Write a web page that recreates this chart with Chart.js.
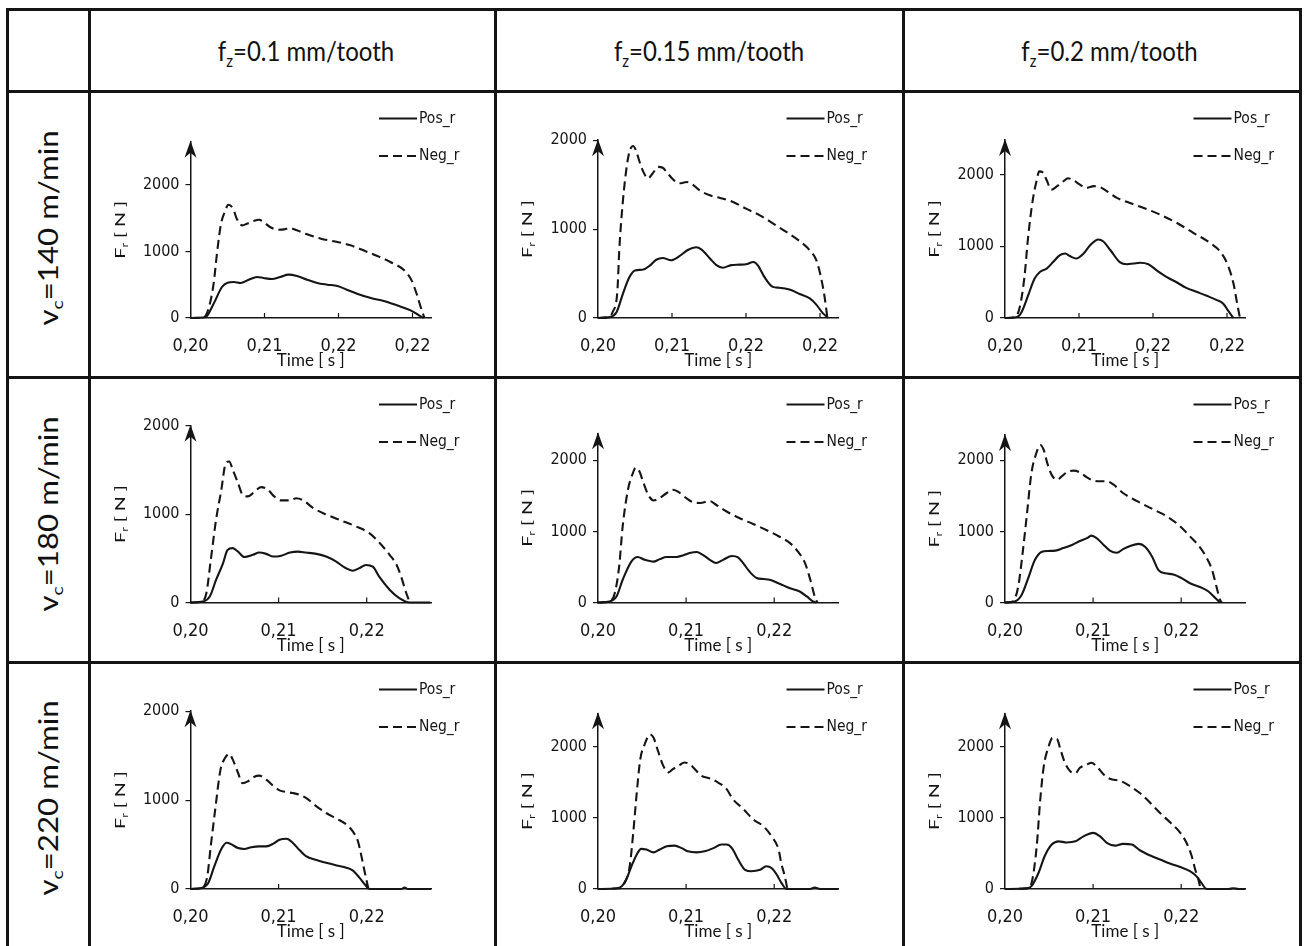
<!DOCTYPE html>
<html>
<head>
<meta charset="utf-8">
<script src="https://cdn.jsdelivr.net/npm/chart.js@4.4.1/dist/chart.umd.min.js"></script>
<style>
  body { margin: 0; background: #fff; }
  #sheet { position: relative; width: 1306px; height: 946px; overflow: hidden; background: #fff; font-family: Lato, 'Open Sans', sans-serif; color: #111; }
  .hl, .vl { position: absolute; background: #141414; z-index: 5; }
  .hl { height: 3px; }
  .vl { width: 3px; }
  .head { position: absolute; top: 9px; height: 82px; display: flex; align-items: center; justify-content: center; font-size: 24px; }
  .head span { display: inline-block; transform: scaleY(1.12); }
  .rowlab { position: absolute; left: 48px; transform: translate(-50%, -50%) rotate(-90deg) scaleX(1.2); white-space: nowrap; font-size: 26px; }
  sub { font-size: 62%; position: relative; top: 0.32em; vertical-align: baseline; line-height: 1; }
  canvas { position: absolute; }
</style>
</head>
<body>
<div id="sheet"></div>
<script>
const ink = '#151515';
const chartFont = "'Liberation Sans Narrow', 'DejaVu Sans Condensed', sans-serif";
const titleFont = "Lato, 'Open Sans', sans-serif";

// categories: columns are feed per tooth, rows are cutting speed
const feedRates = ['0.1', '0.15', '0.2'];
const cuttingSpeeds = ['140', '180', '220'];
const seriesNames = ['Pos_r', 'Neg_r'];

// tick values and labels
const forceTicks = [0, 1000, 2000];
const forceLabels = ['0', '1000', '2000'];
const timeTicksTop = [0.200, 0.208, 0.216, 0.224];
const timeLabelsTop = ['0,20', '0,21', '0,22', '0,22'];
const timeTicks = [0.20, 0.21, 0.22];
const timeLabels = ['0,20', '0,21', '0,22'];

// series, [time s, F_r N]
// v_c = 140 m/min
const pos_140_01 = [[0.2000,0],[0.2016,10],[0.2025,215],[0.2034,465],[0.2040,530],[0.2047,540],[0.2054,525],[0.2063,575],[0.2072,615],[0.2079,600],[0.2088,585],[0.2097,615],[0.2106,650],[0.2115,630],[0.2126,575],[0.2137,525],[0.2148,500],[0.2159,480],[0.2169,425],[0.2180,365],[0.2195,300],[0.2209,255],[0.2223,190],[0.2238,115],[0.2247,40],[0.2252,0]];
const neg_140_01 = [[0.2000,0],[0.2014,5],[0.2020,165],[0.2025,515],[0.2029,1015],[0.2033,1415],[0.2037,1590],[0.2041,1700],[0.2046,1640],[0.2050,1490],[0.2056,1390],[0.2061,1415],[0.2068,1455],[0.2074,1475],[0.2079,1440],[0.2086,1365],[0.2094,1325],[0.2101,1330],[0.2107,1350],[0.2115,1315],[0.2126,1255],[0.2141,1190],[0.2159,1140],[0.2173,1090],[0.2187,1015],[0.2202,930],[0.2216,840],[0.2231,715],[0.2239,565],[0.2245,340],[0.2250,115],[0.2253,0]];
const pos_140_015 = [[0.2000,0],[0.2013,10],[0.2020,65],[0.2027,275],[0.2034,460],[0.2040,535],[0.2049,545],[0.2056,590],[0.2063,655],[0.2070,675],[0.2079,650],[0.2088,695],[0.2097,765],[0.2106,795],[0.2112,770],[0.2121,670],[0.2128,595],[0.2135,565],[0.2144,595],[0.2153,600],[0.2160,605],[0.2168,630],[0.2173,590],[0.2180,460],[0.2189,350],[0.2196,340],[0.2207,320],[0.2218,270],[0.2229,220],[0.2236,150],[0.2243,55],[0.2249,0]];
const neg_140_015 = [[0.2000,0],[0.2011,10],[0.2016,70],[0.2021,310],[0.2023,765],[0.2027,1325],[0.2031,1700],[0.2034,1870],[0.2038,1935],[0.2041,1885],[0.2045,1755],[0.2049,1645],[0.2054,1570],[0.2059,1625],[0.2065,1700],[0.2070,1690],[0.2074,1645],[0.2081,1560],[0.2088,1515],[0.2096,1530],[0.2103,1495],[0.2110,1435],[0.2121,1380],[0.2132,1350],[0.2146,1305],[0.2160,1230],[0.2175,1155],[0.2189,1065],[0.2204,965],[0.2218,865],[0.2229,760],[0.2236,650],[0.2241,460],[0.2245,235],[0.2248,0]];
const pos_140_02 = [[0.2000,0],[0.2013,15],[0.2018,85],[0.2025,315],[0.2032,550],[0.2038,645],[0.2045,690],[0.2052,780],[0.2059,875],[0.2065,900],[0.2070,865],[0.2077,830],[0.2085,900],[0.2092,1015],[0.2101,1095],[0.2106,1070],[0.2114,945],[0.2124,780],[0.2132,750],[0.2139,760],[0.2146,770],[0.2155,750],[0.2164,665],[0.2175,570],[0.2186,495],[0.2196,420],[0.2207,365],[0.2218,310],[0.2229,250],[0.2236,200],[0.2241,105],[0.2247,0]];
const neg_140_02 = [[0.2000,0],[0.2011,15],[0.2016,155],[0.2021,570],[0.2025,1130],[0.2030,1645],[0.2034,1905],[0.2037,2045],[0.2041,2030],[0.2045,1925],[0.2050,1790],[0.2056,1835],[0.2063,1905],[0.2068,1950],[0.2074,1920],[0.2081,1860],[0.2088,1815],[0.2096,1840],[0.2103,1825],[0.2110,1770],[0.2121,1675],[0.2135,1605],[0.2150,1535],[0.2168,1440],[0.2186,1325],[0.2204,1185],[0.2222,1045],[0.2234,905],[0.2241,735],[0.2247,480],[0.2251,200],[0.2254,0]];
// v_c = 180 m/min
const pos_180_01 = [[0.2000,0],[0.2014,10],[0.2022,70],[0.2029,255],[0.2037,445],[0.2042,595],[0.2048,615],[0.2054,575],[0.2061,515],[0.2071,540],[0.2078,565],[0.2086,550],[0.2094,520],[0.2103,530],[0.2113,565],[0.2122,575],[0.2131,565],[0.2143,550],[0.2154,520],[0.2165,465],[0.2176,390],[0.2184,360],[0.2192,390],[0.2199,425],[0.2207,405],[0.2214,295],[0.2226,145],[0.2237,50],[0.2249,0],[0.2272,0]];
const neg_180_01 = [[0.2000,0],[0.2012,10],[0.2018,105],[0.2023,480],[0.2029,935],[0.2035,1275],[0.2040,1575],[0.2044,1595],[0.2048,1500],[0.2054,1350],[0.2059,1220],[0.2065,1200],[0.2073,1255],[0.2080,1305],[0.2088,1275],[0.2095,1200],[0.2103,1155],[0.2113,1155],[0.2120,1180],[0.2128,1155],[0.2139,1070],[0.2154,995],[0.2169,935],[0.2188,860],[0.2203,785],[0.2215,670],[0.2226,540],[0.2234,425],[0.2239,295],[0.2245,105],[0.2249,0]];
const pos_180_015 = [[0.2000,0],[0.2013,15],[0.2021,85],[0.2028,320],[0.2038,580],[0.2045,640],[0.2053,600],[0.2063,575],[0.2070,610],[0.2078,640],[0.2089,640],[0.2097,665],[0.2104,695],[0.2112,710],[0.2119,670],[0.2127,600],[0.2134,555],[0.2142,600],[0.2152,655],[0.2159,635],[0.2165,550],[0.2172,435],[0.2180,345],[0.2188,330],[0.2195,320],[0.2206,265],[0.2218,200],[0.2229,155],[0.2237,85],[0.2244,15],[0.2248,0]];
const neg_180_015 = [[0.2000,0],[0.2013,15],[0.2019,130],[0.2024,505],[0.2028,1070],[0.2034,1585],[0.2039,1800],[0.2043,1895],[0.2047,1845],[0.2051,1705],[0.2057,1515],[0.2063,1435],[0.2070,1470],[0.2078,1540],[0.2085,1585],[0.2093,1540],[0.2100,1470],[0.2108,1410],[0.2116,1400],[0.2127,1425],[0.2134,1375],[0.2146,1280],[0.2161,1185],[0.2176,1105],[0.2191,1020],[0.2206,925],[0.2218,835],[0.2227,715],[0.2235,555],[0.2241,320],[0.2246,85],[0.2249,0]];
const pos_180_02 = [[0.2000,0],[0.2011,15],[0.2019,110],[0.2027,365],[0.2034,600],[0.2042,715],[0.2049,725],[0.2057,730],[0.2066,765],[0.2076,810],[0.2085,865],[0.2093,905],[0.2098,940],[0.2104,905],[0.2112,810],[0.2119,730],[0.2127,700],[0.2134,750],[0.2142,795],[0.2152,825],[0.2159,785],[0.2167,645],[0.2174,460],[0.2182,410],[0.2191,395],[0.2201,340],[0.2210,270],[0.2222,215],[0.2231,155],[0.2239,60],[0.2244,0]];
const neg_180_02 = [[0.2000,0],[0.2009,15],[0.2015,225],[0.2020,695],[0.2025,1255],[0.2030,1820],[0.2035,2080],[0.2040,2215],[0.2044,2145],[0.2048,1960],[0.2053,1795],[0.2059,1725],[0.2064,1770],[0.2070,1830],[0.2078,1855],[0.2085,1830],[0.2093,1760],[0.2100,1715],[0.2108,1705],[0.2116,1705],[0.2123,1660],[0.2134,1540],[0.2150,1425],[0.2169,1305],[0.2184,1210],[0.2199,1070],[0.2210,930],[0.2222,765],[0.2229,625],[0.2235,460],[0.2240,225],[0.2244,40],[0.2246,0]];
// v_c = 220 m/min
const pos_220_01 = [[0.2000,0],[0.2012,10],[0.2020,65],[0.2027,255],[0.2035,450],[0.2041,520],[0.2046,505],[0.2054,460],[0.2061,450],[0.2069,470],[0.2078,480],[0.2086,480],[0.2094,510],[0.2101,555],[0.2109,565],[0.2116,520],[0.2124,435],[0.2131,370],[0.2143,325],[0.2154,295],[0.2166,265],[0.2177,240],[0.2184,210],[0.2192,125],[0.2198,50],[0.2203,0],[0.2239,0],[0.2243,15],[0.2247,0],[0.2273,0]];
const neg_220_01 = [[0.2000,0],[0.2012,10],[0.2019,140],[0.2023,480],[0.2028,890],[0.2034,1340],[0.2039,1470],[0.2044,1520],[0.2048,1455],[0.2054,1305],[0.2059,1190],[0.2065,1210],[0.2072,1260],[0.2078,1275],[0.2086,1230],[0.2094,1160],[0.2101,1110],[0.2109,1090],[0.2116,1080],[0.2124,1060],[0.2131,1025],[0.2143,930],[0.2154,855],[0.2166,790],[0.2177,725],[0.2184,650],[0.2190,540],[0.2194,370],[0.2198,180],[0.2202,0]];
const pos_220_015 = [[0.2000,0],[0.2021,10],[0.2027,40],[0.2032,130],[0.2038,320],[0.2044,485],[0.2049,565],[0.2055,555],[0.2063,515],[0.2070,555],[0.2078,600],[0.2087,610],[0.2095,575],[0.2102,530],[0.2112,515],[0.2121,530],[0.2131,575],[0.2140,625],[0.2146,625],[0.2152,575],[0.2159,415],[0.2167,270],[0.2174,250],[0.2184,270],[0.2191,320],[0.2197,295],[0.2203,200],[0.2208,90],[0.2214,0],[0.2241,0],[0.2246,20],[0.2252,0],[0.2273,0]];
const neg_220_015 = [[0.2000,0],[0.2025,10],[0.2030,85],[0.2036,320],[0.2040,790],[0.2044,1355],[0.2048,1825],[0.2053,2035],[0.2059,2175],[0.2063,2130],[0.2068,1945],[0.2074,1735],[0.2080,1640],[0.2085,1685],[0.2093,1745],[0.2098,1780],[0.2104,1755],[0.2110,1685],[0.2117,1595],[0.2127,1555],[0.2136,1500],[0.2146,1405],[0.2153,1265],[0.2165,1125],[0.2176,980],[0.2188,880],[0.2197,740],[0.2205,555],[0.2208,365],[0.2212,180],[0.2215,0]];
const pos_220_02 = [[0.2000,0],[0.2025,10],[0.2030,40],[0.2038,225],[0.2045,460],[0.2053,625],[0.2061,670],[0.2070,655],[0.2080,670],[0.2089,740],[0.2100,790],[0.2108,740],[0.2116,645],[0.2125,610],[0.2134,635],[0.2144,625],[0.2153,545],[0.2165,470],[0.2176,415],[0.2188,355],[0.2199,310],[0.2210,250],[0.2218,170],[0.2223,85],[0.2229,0],[0.2254,0],[0.2259,10],[0.2265,0],[0.2273,0]];
const neg_220_02 = [[0.2000,0],[0.2027,10],[0.2031,130],[0.2036,600],[0.2040,1255],[0.2044,1725],[0.2049,1985],[0.2054,2125],[0.2059,2110],[0.2063,1960],[0.2068,1775],[0.2074,1655],[0.2080,1630],[0.2085,1705],[0.2093,1750],[0.2098,1775],[0.2104,1725],[0.2112,1610],[0.2119,1550],[0.2131,1520],[0.2142,1445],[0.2153,1350],[0.2165,1210],[0.2176,1070],[0.2188,930],[0.2199,790],[0.2206,650],[0.2212,460],[0.2216,270],[0.2220,110],[0.2222,0]];

const posGrid = [[pos_140_01, pos_140_015, pos_140_02], [pos_180_01, pos_180_015, pos_180_02], [pos_220_01, pos_220_015, pos_220_02]];
const negGrid = [[neg_140_01, neg_140_015, neg_140_02], [neg_180_01, neg_180_015, neg_180_02], [neg_220_01, neg_220_015, neg_220_02]];
const forceMax = [[2645, 2000, 2483], [2000, 2380, 2356], [2000, 2471, 2471]];
const timeMax = [0.2260, 0.2273, 0.2273];

// page layout (px)
const colEdges = [89, 495, 903, 1300];
const rowEdges = [91, 377, 662, 946];
const headShift = [14, 10, 8];
const plotLeft = [190.5, 598, 1005];
const plotWidth = 240.5;
const plotBottom = [318, 602.5, 889];
const plotTop = [[141.7, 140.2, 140], [425.7, 433.3, 435], [711.2, 713.3, 713.3]];

const sheet = document.getElementById('sheet');

// table frame (bottom edge is cut off in the source)
colEdges.concat([7]).forEach(x => {
    const d = document.createElement('div');
    d.className = 'vl';
    d.style.left = (x - 1.5) + 'px'; d.style.top = '7.5px'; d.style.height = '940px';
    sheet.appendChild(d);
});
[9, 91, 377, 662].forEach(y => {
    const d = document.createElement('div');
    d.className = 'hl';
    d.style.top = (y - 1.5) + 'px'; d.style.left = '5.5px'; d.style.width = '1296px';
    sheet.appendChild(d);
});

// header and row labels
feedRates.forEach((f, i) => {
    const d = document.createElement('div');
    d.className = 'head';
    d.style.left = (colEdges[i] + headShift[i]) + 'px';
    d.style.width = (colEdges[i + 1] - colEdges[i]) + 'px';
    d.innerHTML = '<span>f<sub>z</sub>=' + f + ' mm/tooth</span>';
    sheet.appendChild(d);
});
cuttingSpeeds.forEach((v, i) => {
    const d = document.createElement('div');
    d.className = 'rowlab';
    d.style.top = ((rowEdges[i] + rowEdges[i + 1]) / 2 - 6) + 'px';
    d.innerHTML = 'v<sub>c</sub>=' + v + ' m/min';
    sheet.appendChild(d);
});

// arrow, inner x ticks, axis titles and legend
const decor = {
    id: 'decor',
    afterDraw(chart) {
        const { ctx, chartArea: a, scales: { x } } = chart;
        ctx.save();
        ctx.fillStyle = ink;
        ctx.strokeStyle = ink;

        ctx.beginPath();
        ctx.moveTo(a.left, a.top - 1);
        ctx.lineTo(a.left - 6, a.top + 16);
        ctx.lineTo(a.left, a.top + 11);
        ctx.lineTo(a.left + 6, a.top + 16);
        ctx.closePath();
        ctx.fill();

        ctx.lineWidth = 1.2;
        x.ticks.forEach((t, i) => {
            if (i === 0) return;
            const px = x.getPixelForValue(t.value);
            ctx.beginPath();
            ctx.moveTo(px, a.bottom);
            ctx.lineTo(px, a.bottom - 5);
            ctx.stroke();
        });

        ctx.font = '17px ' + titleFont;
        ctx.textAlign = 'center';
        ctx.textBaseline = 'middle';
        ctx.fillText('Time [ s ]', (a.left + a.right) / 2, a.bottom + 43);

        // F_r [ N ] rotated, stretched along the axis like the source
        ctx.save();
        ctx.translate(a.left - 71, (a.top + a.bottom) / 2);
        ctx.rotate(-Math.PI / 2);
        ctx.scale(1.4, 1);
        ctx.textAlign = 'left';
        ctx.textBaseline = 'alphabetic';
        ctx.font = '14px ' + titleFont;
        const wF = ctx.measureText('F').width;
        const wRest = ctx.measureText(' [ N ]').width;
        ctx.font = '9px ' + titleFont;
        const wr = ctx.measureText('r').width;
        const x0 = -(wF + wr + wRest) / 2;
        ctx.font = '14px ' + titleFont;
        ctx.fillText('F', x0, 5);
        ctx.font = '9px ' + titleFont;
        ctx.fillText('r', x0 + wF, 8);
        ctx.font = '14px ' + titleFont;
        ctx.fillText(' [ N ]', x0 + wF + wr, 5);
        ctx.restore();

        // legend
        const rowsY = [27.5, 65];
        ctx.font = '15.5px ' + chartFont;
        ctx.textAlign = 'left';
        ctx.textBaseline = 'middle';
        chart.data.datasets.forEach((ds, i) => {
            const y = rowsY[i];
            ctx.lineWidth = 2;
            ctx.setLineDash(ds.borderDash || []);
            ctx.beginPath();
            ctx.moveTo(a.right - 52, y);
            ctx.lineTo(a.right - 14, y);
            ctx.stroke();
            ctx.setLineDash([]);
            ctx.fillText(ds.label, a.right - 12, y);
        });
        ctx.restore();
    }
};

const toXY = pts => pts.map(p => ({ x: p[0], y: p[1] }));

function buildChart(r, c) {
    const cx = colEdges[c], cy = rowEdges[r];
    const w = colEdges[c + 1] - cx, h = rowEdges[r + 1] - cy;
    const L = plotLeft[c], R = L + plotWidth, B = plotBottom[r], T = plotTop[r][c];
    const canvas = document.createElement('canvas');
    canvas.width = w;
    canvas.height = h;
    canvas.style.left = cx + 'px';
    canvas.style.top = cy + 'px';
    sheet.appendChild(canvas);

    const tv = r === 0 ? timeTicksTop : timeTicks;
    const tl = r === 0 ? timeLabelsTop : timeLabels;

    new Chart(canvas, {
        type: 'line',
        data: {
            datasets: [
                { label: seriesNames[0], data: toXY(posGrid[r][c]), borderColor: ink, borderWidth: 2.1, pointRadius: 0, cubicInterpolationMode: 'monotone', clip: false },
                { label: seriesNames[1], data: toXY(negGrid[r][c]), borderColor: ink, borderWidth: 2.1, borderDash: [9, 5], pointRadius: 0, cubicInterpolationMode: 'monotone', clip: false }
            ]
        },
        options: {
            responsive: false,
            animation: false,
            events: [],
            layout: { padding: { left: 0, top: T - cy, right: cx + w - R, bottom: 0 } },
            plugins: { legend: { display: false }, tooltip: { enabled: false } },
            scales: {
                x: {
                    type: 'linear',
                    min: 0.2,
                    max: timeMax[r],
                    afterBuildTicks: s => { s.ticks = tv.map(v => ({ value: v })); },
                    ticks: { callback: (v, i) => tl[i], color: ink, padding: 18, maxRotation: 0, autoSkip: false, font: { family: chartFont, size: 18 } },
                    grid: { display: false, drawTicks: false, tickLength: 0 },
                    border: { color: ink, width: 1.5 },
                    afterFit: s => { s.height = cy + h - B; }
                },
                y: {
                    type: 'linear',
                    min: 0,
                    max: forceMax[r][c],
                    afterBuildTicks: s => { s.ticks = forceTicks.map(v => ({ value: v })); },
                    ticks: { callback: (v, i) => forceLabels[i], color: ink, padding: 6, font: { family: chartFont, size: 16 } },
                    grid: { drawOnChartArea: false, tickLength: 5, color: ink, lineWidth: 1.2 },
                    border: { color: ink, width: 1.5 },
                    afterFit: s => { s.width = L - cx; }
                }
            }
        },
        plugins: [decor]
    });
}

for (let r = 0; r < 3; r++) {
    for (let c = 0; c < 3; c++) buildChart(r, c);
}
</script>
</body>
</html>
